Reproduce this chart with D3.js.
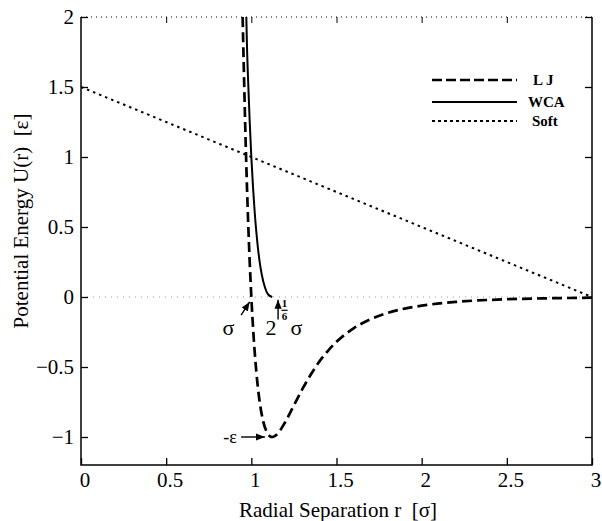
<!DOCTYPE html>
<html>
<head>
<meta charset="utf-8">
<script src="https://cdn.jsdelivr.net/npm/d3@7.9.0/dist/d3.min.js"></script>
<style>
  body { margin: 0; background: #fff; }
  svg { display: block; }
  svg text { font-family: "Liberation Serif", "DejaVu Serif", serif; }
</style>
</head>
<body>
<svg id="chart" width="602" height="521"></svg>
<script>
// values
const ljR = [0.949, 0.955, 0.965, 0.975, 0.99, 1.0, 1.01, 1.03, 1.05, 1.07, 1.09, 1.11, 1.12, 1.13, 1.15, 1.2, 1.25, 1.3, 1.35, 1.4, 1.45, 1.5, 1.6, 1.7, 1.8, 1.9, 2.0, 2.2, 2.5, 2.75, 3.0];
const ljU = [2.0, 1.678, 1.181, 0.764, 0.264, 0, -0.218, -0.544, -0.758, -0.89, -0.963, -0.995, -1.0, -0.998, -0.982, -0.891, -0.774, -0.657, -0.552, -0.46, -0.384, -0.32, -0.224, -0.159, -0.114, -0.083, -0.062, -0.035, -0.016, -0.009, -0.005];
const wcaR = [0.9705, 0.975, 0.98, 0.99, 1.0, 1.01, 1.02, 1.03, 1.04, 1.05, 1.06, 1.08, 1.1, 1.1225];
const wcaU = [2.0, 1.764, 1.582, 1.264, 1.0, 0.782, 0.602, 0.456, 0.337, 0.242, 0.168, 0.068, 0.016, 0];
const softR = [0, 3];
const softU = [1.5, 0];

const xTicks = [0, 0.5, 1, 1.5, 2, 2.5, 3];
const yTicks = [-1, -0.5, 0, 0.5, 1, 1.5, 2];
const legendLabels = ['L J', 'WCA', 'Soft'];

const svg = d3.select('#chart');
const pLeft = 81, pRight = 592, pTop = 17, pBottom = 465;
const serif = '"Liberation Serif", "DejaVu Serif", serif';

const x = d3.scaleLinear().domain([0, 3]).range([pLeft, pRight]);
const y = d3.scaleLinear().domain([-1.2, 2]).range([pBottom, pTop]);

// arrow marker
svg.append('defs').append('marker')
  .attr('id', 'arrow')
  .attr('viewBox', '0 0 10 10')
  .attr('refX', 10).attr('refY', 5)
  .attr('markerWidth', 9).attr('markerHeight', 9)
  .attr('markerUnits', 'userSpaceOnUse')
  .attr('orient', 'auto')
  .append('path').attr('d', 'M0,1 L10,5 L0,9 Z').attr('fill', '#000');

svg.append('clipPath').attr('id', 'clip')
  .append('rect').attr('x', pLeft).attr('y', pTop).attr('width', pRight - pLeft).attr('height', pBottom - pTop);

// zero line
svg.append('line')
  .attr('x1', pLeft).attr('x2', pRight).attr('y1', y(0)).attr('y2', y(0))
  .attr('stroke', '#999').attr('stroke-width', 1).attr('stroke-dasharray', '1,5');

const line = d3.line().x(d => x(d[0])).y(d => y(d[1])).curve(d3.curveMonotoneX);
const g = svg.append('g').attr('clip-path', 'url(#clip)');

g.append('path')
  .attr('d', line(softR.map((r, i) => [r, softU[i]])))
  .attr('fill', 'none').attr('stroke', '#000').attr('stroke-width', 2)
  .attr('stroke-dasharray', '2.5,4');

g.append('path')
  .attr('d', line(ljR.map((r, i) => [r, ljU[i]])))
  .attr('fill', 'none').attr('stroke', '#000').attr('stroke-width', 2.7)
  .attr('stroke-dasharray', '10,5');

g.append('path')
  .attr('d', line(wcaR.map((r, i) => [r, wcaU[i]])))
  .attr('fill', 'none').attr('stroke', '#000').attr('stroke-width', 2);

// frame
svg.append('path')
  .attr('d', `M${pLeft},${pTop} L${pLeft},${pBottom} L${pRight},${pBottom} L${pRight},${pTop}`)
  .attr('fill', 'none').attr('stroke', '#000').attr('stroke-width', 1.5);
svg.append('line')
  .attr('x1', pLeft).attr('x2', pRight).attr('y1', pTop).attr('y2', pTop)
  .attr('stroke', '#000').attr('stroke-width', 1.2).attr('stroke-dasharray', '1,4');

// axes with inward ticks
svg.append('g').attr('transform', `translate(0,${pBottom})`)
  .call(d3.axisTop(x).tickValues(xTicks).tickSize(7).tickFormat(''))
  .call(a => a.select('.domain').remove())
  .call(a => a.selectAll('line').attr('stroke-width', 1.3));
svg.append('g').attr('transform', `translate(0,${pTop})`)
  .call(d3.axisBottom(x).tickValues(xTicks.slice(1, -1)).tickSize(6).tickFormat(''))
  .call(a => a.select('.domain').remove());
svg.append('g').attr('transform', `translate(${pLeft},0)`)
  .call(d3.axisRight(y).tickValues(yTicks).tickSize(7).tickFormat(''))
  .call(a => a.select('.domain').remove())
  .call(a => a.selectAll('line').attr('stroke-width', 1.3));
svg.append('g').attr('transform', `translate(${pRight},0)`)
  .call(d3.axisLeft(y).tickValues(yTicks).tickSize(7).tickFormat(''))
  .call(a => a.select('.domain').remove())
  .call(a => a.selectAll('line').attr('stroke-width', 1.3));

// tick labels
svg.append('g').selectAll('text').data(xTicks).join('text')
  .attr('x', d => x(d) + 4).attr('y', 487)
  .attr('text-anchor', 'middle').attr('font-size', 21).attr('font-family', serif)
  .text(d => d3.format('')(d));
svg.append('g').selectAll('text').data(yTicks).join('text')
  .attr('x', 74).attr('y', d => y(d)).attr('dy', '0.35em')
  .attr('text-anchor', 'end').attr('font-size', 21).attr('font-family', serif)
  .text(d => d3.format('')(d));

// axis titles
svg.append('text')
  .attr('x', 338).attr('y', 517)
  .attr('text-anchor', 'middle').attr('font-size', 21).attr('font-family', serif)
  .text('Radial Separation r\u00a0\u00a0[σ]');
svg.append('text')
  .attr('transform', `translate(28,221) rotate(-90)`)
  .attr('text-anchor', 'middle').attr('font-size', 21).attr('font-family', serif)
  .text('Potential Energy U(r)\u00a0\u00a0[ε]');

// legend
const legendStyles = [
  { dash: '10,4', w: 2.6 },
  { dash: null, w: 2 },
  { dash: '3,3', w: 1.8 }
];
const legendY = [80, 102, 121];
legendLabels.forEach((lab, i) => {
  svg.append('line')
    .attr('x1', 432).attr('x2', 517).attr('y1', legendY[i]).attr('y2', legendY[i])
    .attr('stroke', '#000').attr('stroke-width', legendStyles[i].w)
    .attr('stroke-dasharray', legendStyles[i].dash);
  svg.append('text')
    .attr('x', i === 0 ? 533 : i === 1 ? 528 : 532).attr('y', legendY[i]).attr('dy', '0.35em')
    .attr('font-size', 15).attr('font-weight', 'bold').attr('font-family', serif)
    .text(lab);
});

// annotations
svg.append('line')
  .attr('x1', x(0.94)).attr('y1', y(-0.13)).attr('x2', x(0.99)).attr('y2', y(-0.035))
  .attr('stroke', '#000').attr('stroke-width', 1.4).attr('marker-end', 'url(#arrow)');
svg.append('text')
  .attr('x', x(0.865)).attr('y', y(-0.27)).attr('text-anchor', 'middle')
  .attr('font-size', 22).attr('font-family', serif).text('σ');

svg.append('line')
  .attr('x1', x(1.157)).attr('y1', y(-0.16)).attr('x2', x(1.157)).attr('y2', y(-0.02))
  .attr('stroke', '#000').attr('stroke-width', 1.4).attr('marker-end', 'url(#arrow)');
svg.append('text')
  .attr('x', x(1.115)).attr('y', y(-0.27)).attr('text-anchor', 'middle')
  .attr('font-size', 22).attr('font-family', serif).text('2');
svg.append('text')
  .attr('x', x(1.195)).attr('y', y(-0.07)).attr('text-anchor', 'middle')
  .attr('font-size', 11).attr('font-weight', 'bold').attr('font-family', serif).text('1');
svg.append('line')
  .attr('x1', x(1.177)).attr('x2', x(1.213)).attr('y1', y(-0.095)).attr('y2', y(-0.095))
  .attr('stroke', '#000').attr('stroke-width', 1.2);
svg.append('text')
  .attr('x', x(1.195)).attr('y', y(-0.165)).attr('text-anchor', 'middle')
  .attr('font-size', 11).attr('font-weight', 'bold').attr('font-family', serif).text('6');
svg.append('text')
  .attr('x', x(1.265)).attr('y', y(-0.27)).attr('text-anchor', 'middle')
  .attr('font-size', 22).attr('font-family', serif).text('σ');

svg.append('line')
  .attr('x1', x(0.94)).attr('y1', y(-1)).attr('x2', x(1.08)).attr('y2', y(-1))
  .attr('stroke', '#000').attr('stroke-width', 1.4).attr('marker-end', 'url(#arrow)');
svg.append('text')
  .attr('x', x(0.915)).attr('y', y(-1)).attr('dy', '0.35em').attr('text-anchor', 'end')
  .attr('font-size', 18).attr('font-family', serif).text('-ε');
</script>
</body>
</html>
